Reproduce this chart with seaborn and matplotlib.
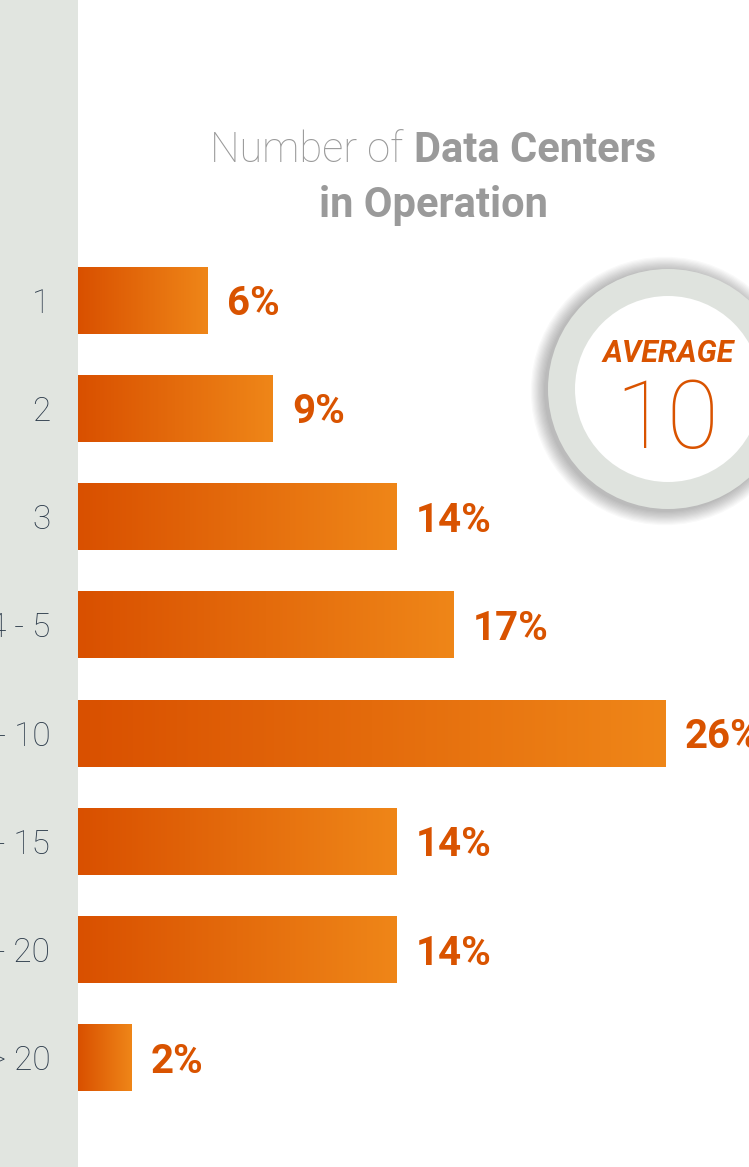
import numpy as np
import matplotlib
matplotlib.use("Agg")
import matplotlib.pyplot as plt
import matplotlib.patches as mpatches
from matplotlib.colors import LinearSegmentedColormap
from matplotlib.offsetbox import TextArea, HPacker, AnnotationBbox
import seaborn as sns

# ---- data --------------------------------------------------------------- #
categories = ["1", "2", "3", "4 - 5", "6 - 10", "11 - 15", "16 - 20", "> 20"]
# bar lengths as measured, and the rounded labels printed next to them
shares = [5.75, 8.6, 14.1, 16.6, 26.0, 14.1, 14.1, 2.35]
share_labels = ["6%", "9%", "14%", "17%", "26%", "14%", "14%", "2%"]
average = 10

W, H = 749, 1167
ORANGE = "#d95300"
GREY_TXT = "#9a9a9a"
STRIP = "#e1e5e0"

sns.set_style("white")
plt.rcParams["font.family"] = ["Roboto", "DejaVu Sans"]

fig = plt.figure(figsize=(W / 100, H / 100), dpi=100)

# background axes in pixel coordinates for the decoration
bg = fig.add_axes([0, 0, 1, 1], zorder=0)
bg.set_xlim(0, W)
bg.set_ylim(H, 0)
bg.axis("off")
bg.add_patch(mpatches.Rectangle((0, 0), 78, H, color=STRIP, lw=0))

# title, mixed weights on the first line
line1 = HPacker(children=[
    TextArea("Number of", textprops=dict(color=GREY_TXT, fontsize=30, fontweight="light")),
    TextArea("Data Centers", textprops=dict(color=GREY_TXT, fontsize=30, fontweight="bold")),
], sep=8, pad=0, align="baseline")
bg.add_artist(AnnotationBbox(line1, (433, 151), xycoords="data", frameon=False,
                             box_alignment=(0.5, 0.5), pad=0))
bg.text(433, 205, "in Operation", color=GREY_TXT, fontsize=30, fontweight="bold",
        ha="center", va="center")

# average badge with a soft shadow
cx, cy = 668, 389
for k in range(12):
    bg.add_patch(mpatches.Circle((cx - 3, cy + 2), 121 + k * 1.2, color="black",
                                 alpha=0.025, lw=0))
bg.add_patch(mpatches.Circle((cx, cy), 120, color="#dfe3de", lw=0))
bg.add_patch(mpatches.Circle((cx, cy), 93, color="white", lw=0))
bg.text(cx, 354, "AVERAGE", color=ORANGE, fontsize=22, fontweight="bold",
        fontstyle="italic", ha="center", va="center")
bg.text(cx - 1, 422, str(average), color=ORANGE, fontsize=68, fontweight=100,
        ha="center", va="center")

# ---- bar chart ----------------------------------------------------------- #
px_per_pct = 22.6
ax = fig.add_axes([78 / W, 1 - 1112 / H, 1 - 78 / W, (1112 - 246) / H], zorder=1)
ax.patch.set_alpha(0)
sns.barplot(x=shares, y=categories, orient="h", color=ORANGE, width=0.62, ax=ax)
ax.set_xlim(0, (W - 78) / px_per_pct)
ax.set_ylim(len(categories) - 0.5, -0.5)

grad = LinearSegmentedColormap.from_list("bar", ["#d95000", "#ef8618"])
ramp = np.linspace(0, 1, 256).reshape(1, -1)
for p in ax.patches:
    x0, y0 = p.get_x(), p.get_y()
    w, h = p.get_width(), p.get_height()
    im = ax.imshow(ramp, cmap=grad, aspect="auto", extent=(x0, x0 + w, y0 + h, y0),
                   zorder=2)
    im.set_clip_path(p)
    p.set_alpha(0)

for i, (v, lab) in enumerate(zip(shares, share_labels)):
    ax.annotate(lab, (v, i), xytext=(14, 0), textcoords="offset points",
                color=ORANGE, fontsize=29, fontweight="bold", ha="left",
                va="center_baseline")

ax.set_xlabel("")
ax.set_ylabel("")
ax.set_xticks([])
ax.tick_params(axis="y", length=0, pad=20, labelsize=24, labelcolor="#2b3a4a")
for lab in ax.get_yticklabels():
    lab.set_fontweight("light")
sns.despine(ax=ax, left=True, bottom=True)

fig.savefig("out.png", dpi=100)
